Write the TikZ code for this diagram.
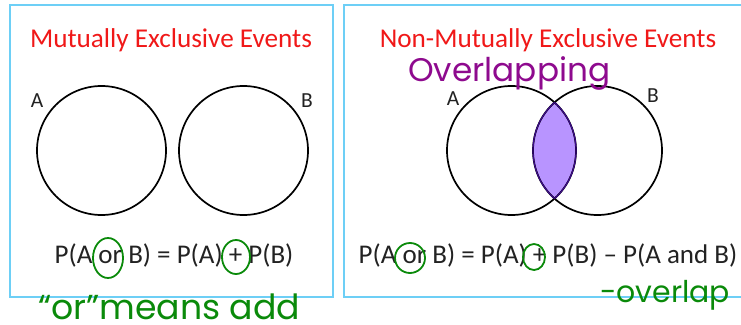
\documentclass[tikz,border=0pt]{standalone}
\usepackage{fontspec}
\setmainfont{Carlito}
\newfontfamily\handfont{Poppins}
\usetikzlibrary{shapes.geometric}
\definecolor{boxblue}{HTML}{6DCFF6}
\definecolor{titlered}{HTML}{F01818}
\definecolor{lens}{HTML}{B894FF}
\definecolor{lensedge}{HTML}{3C0A8C}
\definecolor{penpurple}{HTML}{8E0A8E}
\definecolor{pengreen}{HTML}{0A8A0A}
\definecolor{inkgray}{HTML}{222222}
\tikzset{
  panel/.style={draw=boxblue, line width=1.6pt},
  title/.style={text=titlered, font=\fontsize{27.2}{30}\selectfont, anchor=base, inner sep=0},
  setcircle/.style={draw=black, line width=1.7pt},
  setlabel/.style={text=inkgray, font=\fontsize{21.5}{22}\selectfont, anchor=base, inner sep=0},
  equation/.style={text=inkgray, font=\fontsize{27}{29}\selectfont, anchor=base, inner sep=0},
  penring/.style={draw=pengreen, line width=1.8pt, ellipse, inner sep=0},
  pennote/.style={text=pengreen, anchor=base, inner sep=0},
}
\begin{document}
\begin{tikzpicture}[x=1pt,y=-1pt]
\clip (0,0) rectangle (741,324);
% panels
\node[panel, minimum width=323pt, minimum height=292pt, inner sep=0, anchor=north west] (leftbox) at (9,4) {};
\node[panel, minimum width=420pt, minimum height=292pt, inner sep=0, anchor=north west] (rightbox) at (343,4) {};
% titles
\node[title] (t1) at (171,47) {Mutually Exclusive Events};
\node[title] (t2) at (548,47) {Non-Mutually Exclusive Events};
% left circles
\node[setcircle, circle, minimum size=129pt, inner sep=0] (cA) at (101.5,150.5) {};
\node[setcircle, circle, minimum size=129pt, inner sep=0] (cB) at (243.5,150.5) {};
\node[setlabel] (lA) at (37,107) {A};
\node[setlabel] (lB) at (307,107) {B};
% right circles with overlap
\begin{scope}
  \clip (511.5,150.5) circle (64.5);
  \fill[lens] (597.5,150.5) circle (64.5);
\end{scope}
\node[setcircle, circle, minimum size=129pt, inner sep=0] (rA) at (511.5,150.5) {};
\node[setcircle, circle, minimum size=129pt, inner sep=0] (rB) at (597.5,150.5) {};
\begin{scope}
  \clip (511.5,150.5) circle (64.5);
  \draw[lensedge, line width=1.2pt] (597.5,150.5) circle (64.5);
\end{scope}
\begin{scope}
  \clip (597.5,150.5) circle (64.5);
  \draw[lensedge, line width=1.2pt] (511.5,150.5) circle (64.5);
\end{scope}
\node[setlabel] (rlA) at (453,105) {A};
\node[setlabel] (rlB) at (653,102) {B};
% equations
\node[equation] (eq1) at (174,263) {P(A or B) = P(A) + P(B)};
\node[equation] (eq2) at (548,263) {P(A or B) = P(A) + P(B) -- P(A and B)};
% green rings
\node[penring, minimum width=30pt, minimum height=40pt] (ring1) at (108,258) {};
\node[penring, minimum width=28pt, minimum height=34pt] (ring2) at (236,257) {};
\node[penring, minimum width=30pt, minimum height=30pt] (ring3) at (410,258) {};
\node[penring, minimum width=22pt, minimum height=26pt] (ring4) at (534,257) {};
% handwritten notes
\node[text=penpurple, anchor=base west, inner sep=0, font=\handfont\fontsize{34}{36}\selectfont] (over) at (408,81) {\resizebox{202pt}{!}{Overlapping}};
\node[pennote, anchor=base west, font=\handfont\fontsize{30}{32}\selectfont] (means) at (38,319) {\resizebox{262pt}{!}{“or”means add}};
\node[pennote, anchor=base west, font=\handfont\fontsize{26}{28}\selectfont] (minus) at (600,302) {\resizebox{130pt}{!}{-overlap}};
\end{tikzpicture}
\end{document}
